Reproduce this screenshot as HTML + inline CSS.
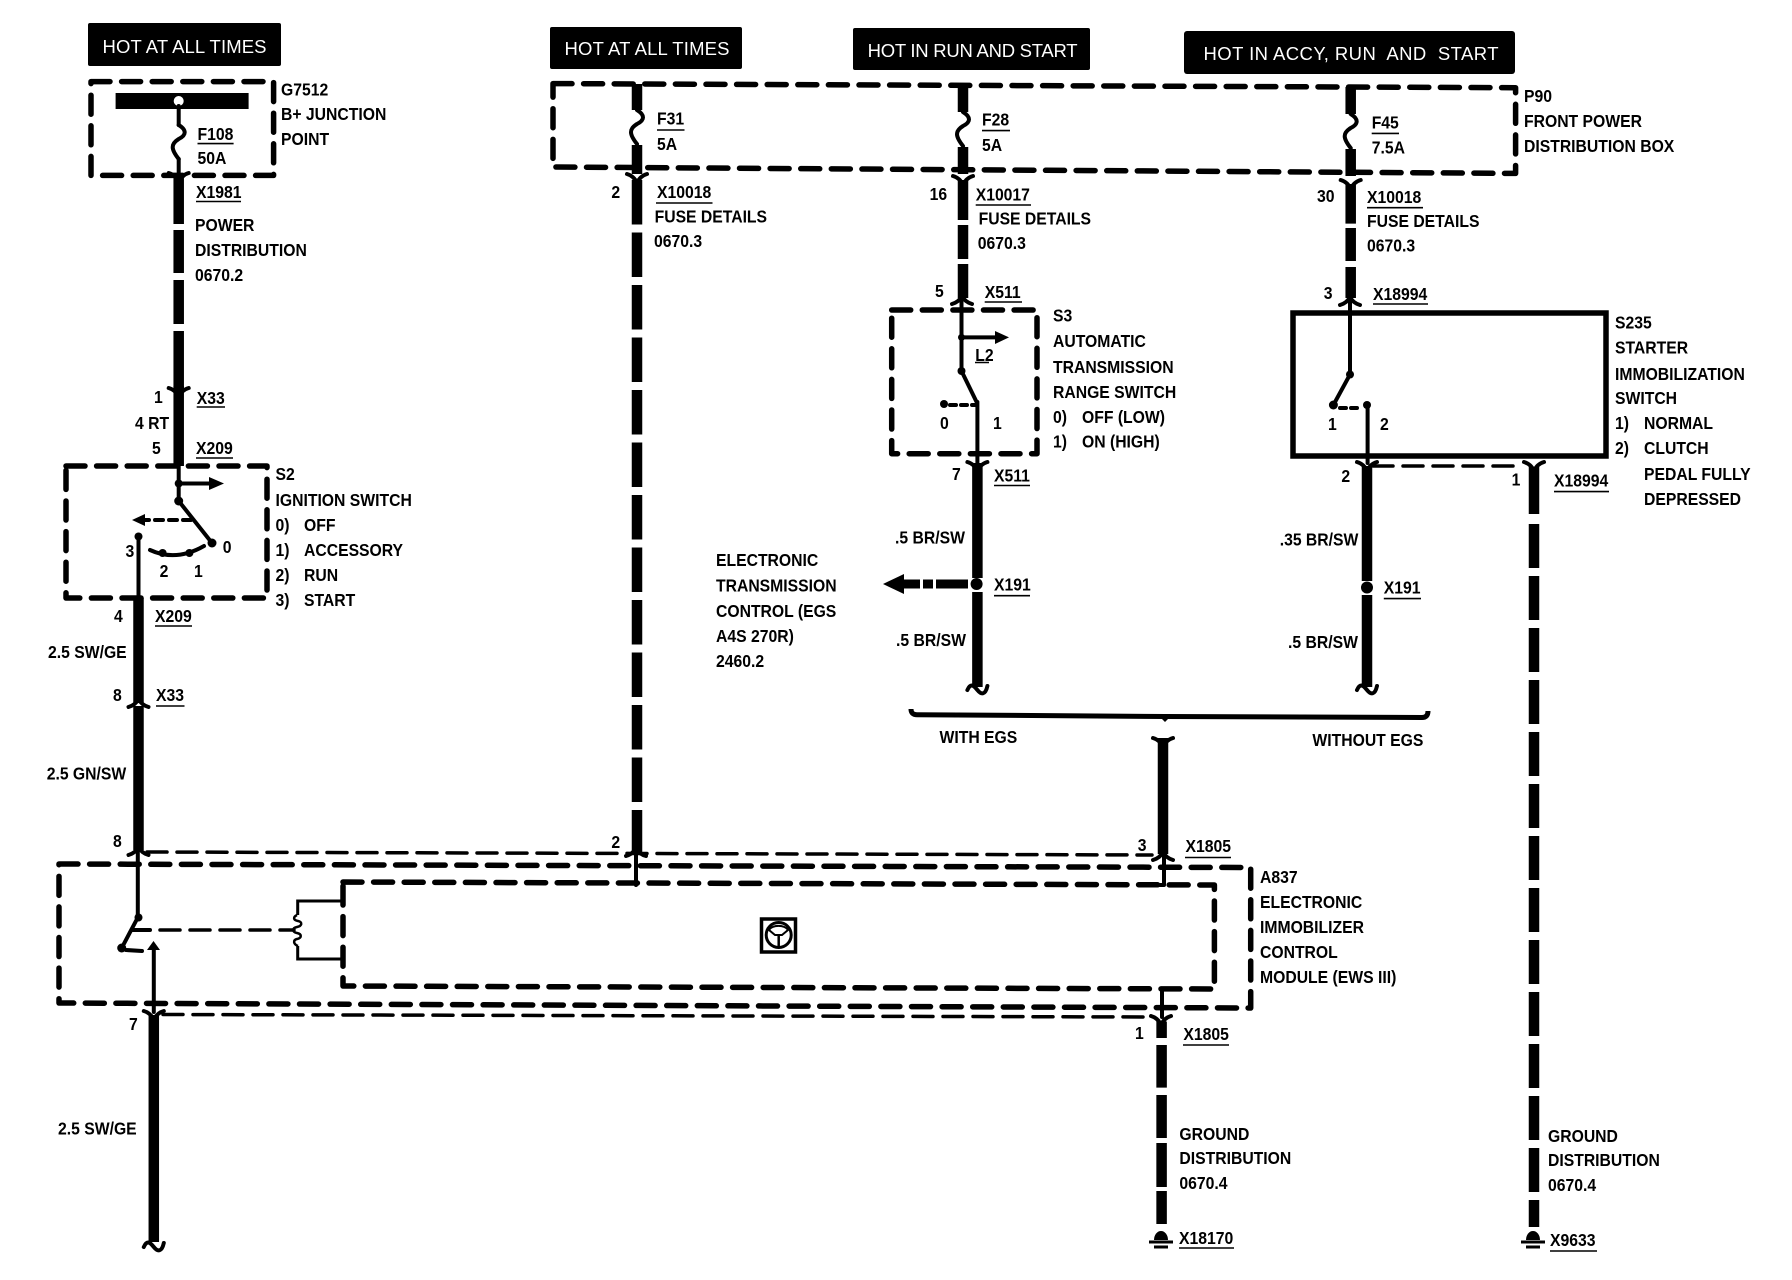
<!DOCTYPE html>
<html><head><meta charset="utf-8"><title>Wiring diagram</title>
<style>
html,body{margin:0;padding:0;background:#fff}
svg{display:block}
text{font-family:"Liberation Sans",sans-serif;font-weight:700;font-size:17.5px;fill:#000}
text.h{font-family:"Liberation Sans",sans-serif;font-size:18.5px;fill:#fff;font-weight:400}
.b{fill:none;stroke:#000;stroke-width:5.5;stroke-dasharray:19 11.6;stroke-linecap:round;stroke-linejoin:round}
.n{fill:none;stroke:#000;stroke-width:3.5;stroke-dasharray:20 10;stroke-linecap:round}
.w{stroke:#000;stroke-width:10.5;fill:none}
.d{stroke:#000;stroke-width:10.5;fill:none;stroke-dasharray:44.5 8}
.f{stroke:#000;stroke-width:4;fill:none;stroke-linecap:round;stroke-linejoin:round}
.u{stroke:#000;stroke-width:1.6;fill:none}
</style></head><body>
<svg xmlns="http://www.w3.org/2000/svg" width="1792" height="1280" viewBox="0 0 1792 1280">
<defs>
<path id="ya" class="f" d="M-10 4Q-3 2 0 -4Q3 2 10 4"/>
<path id="yb" class="f" d="M-10 -4Q-3 -2 0 5Q3 -2 10 -4"/>
<path id="fu" class="f" d="M0 0c8 5 8 10 0 14c-8 5 -8 10 0 20"/>
<path id="tl" class="f" d="M-10 3c3 -7 6 -5 10 0c4 5 8 5 10 -4"/>
<g id="gd"><path d="M-7 4a7 9 0 0 1 14 0z" fill="#000"/><path d="M-12 6H12M-7 11H7" stroke="#000" stroke-width="3"/></g>
</defs>
<rect width="1792" height="1280" fill="#fff"/>

<!-- headers -->
<rect x="88" y="23" width="193" height="43" rx="2"/>
<text class="h" x="102.500" y="53" textLength="164" lengthAdjust="spacing">HOT AT ALL TIMES</text>
<rect x="550" y="27" width="192" height="42" rx="2"/>
<text class="h" x="564.500" y="55" textLength="165" lengthAdjust="spacing">HOT AT ALL TIMES</text>
<rect x="853" y="28" width="237" height="42" rx="2"/>
<text class="h" x="867.600" y="57" textLength="210" lengthAdjust="spacing">HOT IN RUN AND START</text>
<rect x="1184" y="31" width="331" height="43" rx="3"/>
<text class="h" x="1203.500" y="60" textLength="295" lengthAdjust="spacing" xml:space="preserve">HOT IN ACCY, RUN  AND  START</text>

<!-- G7512 -->
<rect class="b" x="91" y="81.600" width="182.600" height="93.800"/>
<rect x="115.600" y="93" width="133" height="16"/>
<circle cx="178.700" cy="101" r="5" fill="#fff"/>
<path class="f" d="M178.700 106V125"/><use href="#fu" x="178.700" y="125"/><path class="f" d="M178.700 159V178"/>
<path d="M178.700 178V224M178.700 230V273M178.700 280V324M178.700 331V388" class="w"/>
<use href="#yb" x="178.700" y="177"/>
<use href="#yb" x="178.700" y="392"/>
<path class="w" d="M178.700 386V466"/>

<!-- S2 -->
<rect class="b" x="66" y="466" width="201" height="132"/>
<path class="f" d="M178.700 466V501L212 543"/>
<circle cx="178.700" cy="483.500" r="4"/><circle cx="178.700" cy="501" r="4.500"/><circle cx="212" cy="543" r="4.500"/>
<path class="f" d="M178.700 483.500H212"/><path d="M209 477L224 483.500L209 490z"/>
<path class="f" stroke-dasharray="8 6" d="M191 520H142"/><path d="M145 514L132 520L145 526z"/>
<circle cx="138.500" cy="536.500" r="4"/>
<path class="f" d="M150 550Q176 562 204 546"/>
<circle cx="162.600" cy="553" r="4"/><circle cx="189.400" cy="553" r="4"/>
<path class="f" d="M138.500 536V598"/>
<path class="w" d="M138.500 598V703"/>
<use href="#ya" x="138.500" y="703"/>
<path class="w" d="M138.500 706V850" stroke-width="9.500"/>
<use href="#ya" x="138.500" y="851"/>

<!-- P90 -->
<path class="b" d="M553 83.600L1515.600 87.700V173.400L553 167Z"/>
<path class="w" d="M637 84V110M637 145V174M963 85V112M963 147V174M1350.700 87V114M1350.700 149V176"/>
<use href="#fu" x="637" y="110"/><use href="#fu" x="963" y="112"/><use href="#fu" x="1350.700" y="114"/>
<use href="#yb" x="637" y="178"/><use href="#yb" x="963" y="180"/><use href="#yb" x="1350.700" y="184"/>
<path class="d" d="M637 180V852"/>
<use href="#ya" x="636" y="852"/>
<path class="w" d="M963 180V220M963 225V259M963 264V298"/>
<use href="#ya" x="962" y="300"/>
<path class="w" d="M1350.700 184V223.600M1350.700 228V261M1350.700 267V298"/>
<use href="#ya" x="1350" y="301"/>

<!-- S3 -->
<rect class="b" x="891.700" y="310" width="145.300" height="143.700"/>
<path class="f" d="M961.500 300V371L976.600 402"/>
<circle cx="961.500" cy="337.400" r="3.500"/><circle cx="961.500" cy="371" r="4"/>
<path class="f" d="M961.500 337.400H996"/><path d="M995 331L1009 337.400L995 344z"/>
<circle cx="944" cy="404" r="4"/><path class="f" stroke-dasharray="6 5" d="M950 405H976"/>
<path class="f" d="M977.400 402V463"/>
<use href="#yb" x="977.400" y="466"/>
<path class="w" d="M977.400 463V578M977.400 592V687"/>
<circle cx="976.600" cy="584" r="6"/>
<use href="#tl" x="977.400" y="687"/>
<path d="M936 584H968M923 584H933M903 584H920" stroke="#000" stroke-width="9" fill="none"/>
<path d="M904 574L883 584L904 594z"/>

<!-- S235 -->
<rect x="1293" y="313" width="313" height="143" fill="none" stroke="#000" stroke-width="5.500"/>
<path class="f" d="M1350 301V374.500L1333.400 405"/>
<circle cx="1350" cy="374.500" r="4"/><circle cx="1333.400" cy="405" r="4.500"/><circle cx="1367" cy="405" r="4"/>
<path class="f" stroke-dasharray="6 5" d="M1340 408H1362"/>
<path class="f" d="M1367.600 405V463"/>
<path class="n" d="M1373 466H1515"/>
<use href="#yb" x="1367" y="466"/><use href="#yb" x="1534" y="466"/>
<path class="w" d="M1367 466V581M1367 595V687" stroke-width="10.800"/>
<circle cx="1367" cy="587.500" r="6"/>
<use href="#tl" x="1367" y="687"/>
<path class="w" d="M1534 467V514"/>
<path class="w" stroke-dasharray="44 8" d="M1534 524V1227"/>
<use href="#gd" x="1533" y="1236"/>

<!-- bracket -->
<path d="M911 709Q911 714.700 917 714.700L1165 716.500L1422 717.500Q1428 717.500 1428 711" fill="none" stroke="#000" stroke-width="5"/>
<path d="M1160 717L1165 722L1170 717z"/>

<!-- A837 -->
<path class="b" d="M59 864L1250.700 867.500V1008L59 1003Z"/>
<path class="b" d="M343 882L1214.400 885V989L343 986Z"/>
<path class="n" d="M147 852L1152 855"/>
<path class="n" d="M163 1014.500L1151 1017"/>
<path class="w" d="M1163 738V854"/>
<use href="#yb" x="1163" y="742"/>
<use href="#ya" x="1163" y="856"/>
<path class="f" d="M636 853V885M1164 856V885H1150"/>
<path class="f" d="M137.800 850V917.500L121.700 948"/>
<circle cx="138.500" cy="917.500" r="4"/><circle cx="121.700" cy="948" r="4.500"/>
<path class="f" stroke-width="3" d="M126 950L142 951"/>
<path d="M147 950L153.500 941L160 950z"/><path class="f" d="M153.800 946V1012"/>
<path class="f" stroke-width="3.500" d="M132 930H150"/>
<path class="n" d="M160 930H294"/>
<path d="M343 901H297.700V915M297.700 946V959H343" fill="none" stroke="#000" stroke-width="3"/>
<path d="M297 915c-4 2 -4 5 1 6c5 1 4 5 -1 6c-5 1 -5 5 0 6c5 1 5 5 0 6c-4 1 -4 5 1 7" fill="none" stroke="#000" stroke-width="2.500"/>
<use href="#yb" x="153.800" y="1015"/>
<path class="w" d="M153.800 1015V1242"/>
<use href="#tl" x="153.800" y="1244"/>
<path class="w" d="M1161.600 1021.500V1038M1161.600 1045V1087.600M1161.600 1095V1138M1161.600 1143V1187M1161.600 1191V1224"/>
<path class="f" d="M1162 989V1017"/>
<use href="#yb" x="1161" y="1020"/>
<use href="#gd" x="1161" y="1236"/>

<!-- icon -->
<rect x="761.500" y="919" width="34" height="33" fill="none" stroke="#000" stroke-width="3.500"/>
<circle cx="778.700" cy="935" r="12.500" fill="none" stroke="#000" stroke-width="3"/>
<path d="M769 930a10 6 0 0 1 19 0l-6 5h-7z" fill="#fff" stroke="#000" stroke-width="2"/>
<path d="M778.700 935V948" stroke="#000" stroke-width="2.500"/>

<!-- underlines -->
<path class="u" d="M197.500 143.600H233.600M196 201.500H241M196.700 407H225M196 458H233M155 626H192M156 706H184.500M657 130H684.500M982 130.600H1010M1371.700 133.400H1399M656 203H712.500M975.700 205H1031M1367 207.700H1423M984.700 302H1022M1373 304H1428M975 362.500H989M994 485.500H1030M1554 491.600H1609M994 595.700H1030M1383.800 598.600H1421M1185 857.500H1231M1183 1045H1229M1179 1248H1234M1550 1251H1597"/>

<!-- labels -->
<text transform="matrix(.9 0 0 1 197.500 140)">F108</text>
<text transform="matrix(.9 0 0 1 197.500 164)">50A</text>
<text transform="matrix(.9 0 0 1 281 95.500)">G7512</text>
<text transform="matrix(.9 0 0 1 281 120)">B+ JUNCTION</text>
<text transform="matrix(.9 0 0 1 281 145)">POINT</text>
<text transform="matrix(.9 0 0 1 196 198)">X1981</text>
<text transform="matrix(.9 0 0 1 195 231)">POWER</text>
<text transform="matrix(.9 0 0 1 195 256)">DISTRIBUTION</text>
<text transform="matrix(.9 0 0 1 195 281)">0670.2</text>
<text transform="matrix(.9 0 0 1 196.700 404)">X33</text>
<text transform="matrix(.9 0 0 1 154 403)">1</text>
<text transform="matrix(.9 0 0 1 135 429)">4 RT</text>
<text transform="matrix(.9 0 0 1 152 454)">5</text>
<text transform="matrix(.9 0 0 1 196 454)">X209</text>
<text transform="matrix(.9 0 0 1 125.500 557)">3</text>
<text transform="matrix(.9 0 0 1 159.600 577)">2</text>
<text transform="matrix(.9 0 0 1 194 577)">1</text>
<text transform="matrix(.9 0 0 1 222.700 553)">0</text>
<text transform="matrix(.9 0 0 1 275.500 480)">S2</text>
<text transform="matrix(.9 0 0 1 275.500 506)">IGNITION SWITCH</text>
<text transform="matrix(.9 0 0 1 275.500 531)">0)</text><text transform="matrix(.9 0 0 1 304 531)">OFF</text>
<text transform="matrix(.9 0 0 1 275.500 556)">1)</text><text transform="matrix(.9 0 0 1 304 556)">ACCESSORY</text>
<text transform="matrix(.9 0 0 1 275.500 581)">2)</text><text transform="matrix(.9 0 0 1 304 581)">RUN</text>
<text transform="matrix(.9 0 0 1 275.500 606)">3)</text><text transform="matrix(.9 0 0 1 304 606)">START</text>
<text transform="matrix(.9 0 0 1 114 622)">4</text>
<text transform="matrix(.9 0 0 1 155 622)">X209</text>
<text transform="matrix(.9 0 0 1 48 658)">2.5 SW/GE</text>
<text transform="matrix(.9 0 0 1 113 701)">8</text>
<text transform="matrix(.9 0 0 1 156 701)">X33</text>
<text transform="matrix(.9 0 0 1 46.700 779.500)">2.5 GN/SW</text>
<text transform="matrix(.9 0 0 1 113 847)">8</text>
<text transform="matrix(.9 0 0 1 129 1030)">7</text>
<text transform="matrix(.9 0 0 1 58 1134.500)">2.5 SW/GE</text>

<text transform="matrix(.9 0 0 1 657 124.500)">F31</text>
<text transform="matrix(.9 0 0 1 657 150)">5A</text>
<text transform="matrix(.9 0 0 1 982 125.600)">F28</text>
<text transform="matrix(.9 0 0 1 982 151)">5A</text>
<text transform="matrix(.9 0 0 1 1371.700 128.500)">F45</text>
<text transform="matrix(.9 0 0 1 1371.700 153.400)">7.5A</text>
<text transform="matrix(.9 0 0 1 1524 102)">P90</text>
<text transform="matrix(.9 0 0 1 1524 127)">FRONT POWER</text>
<text transform="matrix(.9 0 0 1 1524 152)">DISTRIBUTION BOX</text>
<text transform="matrix(.9 0 0 1 611.400 198)">2</text>
<text transform="matrix(.9 0 0 1 657 198)">X10018</text>
<text transform="matrix(.9 0 0 1 654.600 222.400)">FUSE DETAILS</text>
<text transform="matrix(.9 0 0 1 654 247)">0670.3</text>
<text transform="matrix(.9 0 0 1 929.600 200)">16</text>
<text transform="matrix(.9 0 0 1 975.700 200.700)">X10017</text>
<text transform="matrix(.9 0 0 1 978.600 224.400)">FUSE DETAILS</text>
<text transform="matrix(.9 0 0 1 977.800 249)">0670.3</text>
<text transform="matrix(.9 0 0 1 1317 202)">30</text>
<text transform="matrix(.9 0 0 1 1367 202.800)">X10018</text>
<text transform="matrix(.9 0 0 1 1367 226.800)">FUSE DETAILS</text>
<text transform="matrix(.9 0 0 1 1367 251.700)">0670.3</text>
<text transform="matrix(.9 0 0 1 935 297)">5</text>
<text transform="matrix(.9 0 0 1 984.700 298)">X511</text>
<text transform="matrix(.9 0 0 1 975.300 361)">L2</text>
<text transform="matrix(.9 0 0 1 940 429)">0</text>
<text transform="matrix(.9 0 0 1 993 429)">1</text>
<text transform="matrix(.9 0 0 1 952 480)">7</text>
<text transform="matrix(.9 0 0 1 994 481.400)">X511</text>
<text transform="matrix(.9 0 0 1 994 590.400)">X191</text>
<text transform="matrix(.9 0 0 1 895 543.500)">.5 BR/SW</text>
<text transform="matrix(.9 0 0 1 896 646)">.5 BR/SW</text>
<text transform="matrix(.9 0 0 1 716 566)">ELECTRONIC</text>
<text transform="matrix(.9 0 0 1 716 591.600)">TRANSMISSION</text>
<text transform="matrix(.9 0 0 1 716 617)">CONTROL (EGS</text>
<text transform="matrix(.9 0 0 1 716 642)">A4S 270R)</text>
<text transform="matrix(.9 0 0 1 716 667)">2460.2</text>
<text transform="matrix(.9 0 0 1 1053 321.500)">S3</text>
<text transform="matrix(.9 0 0 1 1053 347)">AUTOMATIC</text>
<text transform="matrix(.9 0 0 1 1053 373)">TRANSMISSION</text>
<text transform="matrix(.9 0 0 1 1053 398)">RANGE SWITCH</text>
<text transform="matrix(.9 0 0 1 1053 423)">0)</text><text transform="matrix(.9 0 0 1 1082 423)">OFF (LOW)</text>
<text transform="matrix(.9 0 0 1 1053 447.600)">1)</text><text transform="matrix(.9 0 0 1 1082 447.600)">ON (HIGH)</text>

<text transform="matrix(.9 0 0 1 1323.700 299)">3</text>
<text transform="matrix(.9 0 0 1 1373 300)">X18994</text>
<text transform="matrix(.9 0 0 1 1328 430)">1</text>
<text transform="matrix(.9 0 0 1 1380 430)">2</text>
<text transform="matrix(.9 0 0 1 1341.400 482)">2</text>
<text transform="matrix(.9 0 0 1 1279.700 545.500)">.35 BR/SW</text>
<text transform="matrix(.9 0 0 1 1383.800 593.600)">X191</text>
<text transform="matrix(.9 0 0 1 1288 648)">.5 BR/SW</text>
<text transform="matrix(.9 0 0 1 1511.600 485.500)">1</text>
<text transform="matrix(.9 0 0 1 1554 486.700)">X18994</text>
<text transform="matrix(.9 0 0 1 1615 328.400)">S235</text>
<text transform="matrix(.9 0 0 1 1615 353.700)">STARTER</text>
<text transform="matrix(.9 0 0 1 1615 380)">IMMOBILIZATION</text>
<text transform="matrix(.9 0 0 1 1615 404)">SWITCH</text>
<text transform="matrix(.9 0 0 1 1615 429)">1)</text><text transform="matrix(.9 0 0 1 1644 429)">NORMAL</text>
<text transform="matrix(.9 0 0 1 1615 454)">2)</text><text transform="matrix(.9 0 0 1 1644 454)">CLUTCH</text>
<text transform="matrix(.9 0 0 1 1644 480)">PEDAL FULLY</text>
<text transform="matrix(.9 0 0 1 1644 505)">DEPRESSED</text>

<text transform="matrix(.9 0 0 1 939.500 743)">WITH EGS</text>
<text transform="matrix(.9 0 0 1 1312.400 746)">WITHOUT EGS</text>
<text transform="matrix(.9 0 0 1 611.400 848)">2</text>
<text transform="matrix(.9 0 0 1 1137.700 851)">3</text>
<text transform="matrix(.9 0 0 1 1185.500 852)">X1805</text>
<text transform="matrix(.9 0 0 1 1260 883)">A837</text>
<text transform="matrix(.9 0 0 1 1260 908)">ELECTRONIC</text>
<text transform="matrix(.9 0 0 1 1260 933)">IMMOBILIZER</text>
<text transform="matrix(.9 0 0 1 1260 958)">CONTROL</text>
<text transform="matrix(.9 0 0 1 1260 983)">MODULE (EWS III)</text>
<text transform="matrix(.9 0 0 1 1135 1039)">1</text>
<text transform="matrix(.9 0 0 1 1183.400 1040)">X1805</text>
<text transform="matrix(.9 0 0 1 1179.400 1140)">GROUND</text>
<text transform="matrix(.9 0 0 1 1179.400 1164)">DISTRIBUTION</text>
<text transform="matrix(.9 0 0 1 1179.400 1189)">0670.4</text>
<text transform="matrix(.9 0 0 1 1179 1244)">X18170</text>
<text transform="matrix(.9 0 0 1 1548 1142)">GROUND</text>
<text transform="matrix(.9 0 0 1 1548 1166)">DISTRIBUTION</text>
<text transform="matrix(.9 0 0 1 1548 1191)">0670.4</text>
<text transform="matrix(.9 0 0 1 1550 1246)">X9633</text>
</svg>
</body></html>
